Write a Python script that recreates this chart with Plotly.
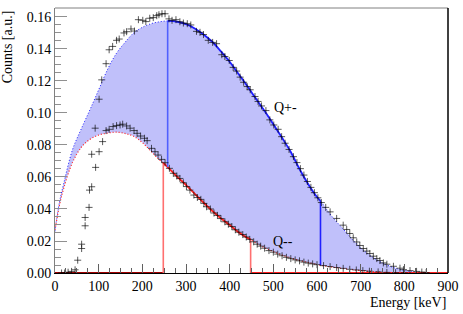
import plotly.graph_objects as go
import numpy as np

# ---- fit curves ----
upper_E = [0, 10, 20, 40, 60, 80, 100, 120, 140, 160, 180, 200, 220, 240, 258, 280, 300, 320, 340, 360,
           380, 400, 420, 440, 460, 480, 500, 520, 540, 560, 580, 600, 608, 620, 640, 660, 680, 700, 720,
           740, 760, 780, 800, 820, 840, 860]
upper_y = [0.026, 0.044, 0.056, 0.077, 0.090, 0.102, 0.1145, 0.127, 0.137, 0.144, 0.150, 0.1535, 0.1558,
           0.1570, 0.1575, 0.1570, 0.1555, 0.1528, 0.1490, 0.1445, 0.1385, 0.1320, 0.1245, 0.1170, 0.1090,
           0.1012, 0.0930, 0.0845, 0.0756, 0.0650, 0.0555, 0.0475, 0.0451, 0.0405, 0.0335, 0.0275, 0.0212,
           0.0158, 0.0113, 0.0078, 0.0050, 0.0030, 0.0016, 0.0007, 0.0002, 0.0]

lower_E = [0, 10, 20, 40, 60, 80, 100, 120, 140, 160, 180, 200, 220, 240, 248, 258, 280, 300, 320, 340,
           360, 380, 400, 420, 440, 448, 460, 480, 500, 520, 540, 560, 580, 600, 608, 620, 640, 660, 680,
           700, 720, 740, 760, 780, 800]
lower_y = [0.027, 0.042, 0.053, 0.069, 0.0785, 0.0835, 0.0862, 0.0874, 0.0880, 0.0872, 0.0855, 0.0815,
           0.0760, 0.0705, 0.0688, 0.0662, 0.0600, 0.0550, 0.0495, 0.0440, 0.0388, 0.0342, 0.0300, 0.0256,
           0.0220, 0.0209, 0.0188, 0.0158, 0.0134, 0.0112, 0.0093, 0.0078, 0.0065, 0.0053, 0.0048, 0.0043,
           0.0035, 0.0028, 0.0021, 0.0015, 0.0010, 0.0006, 0.0003, 0.0001, 0.0]

# ---- measured data points ----
data_up_E = [101, 107, 117, 124, 132, 141, 147, 158, 164, 174, 182, 191, 201, 208, 217, 225, 233, 238, 245,
             252, 261, 268, 277, 286, 294, 303, 311, 324, 332, 340, 351, 361, 370, 382, 389, 399, 408, 416,
             424, 432, 440, 447, 458, 465, 473, 483, 492, 501, 511, 519, 527, 536, 546, 554, 562, 570, 578,
             586, 594, 602, 610, 620, 630, 645, 660, 668, 675, 683, 691, 698, 706, 714, 721, 729, 737, 744,
             752, 760, 775, 790, 798, 813, 828, 840, 850]
data_up_y = [0.1086, 0.1207, 0.1308, 0.1395, 0.1416, 0.1454, 0.1462, 0.1500, 0.1508, 0.1525, 0.1512, 0.1583,
             0.1579, 0.1571, 0.1592, 0.1596, 0.1608, 0.1614, 0.1620, 0.1620, 0.1588, 0.1579, 0.1583, 0.1570,
             0.1562, 0.1558, 0.1550, 0.1510, 0.1504, 0.1490, 0.1454, 0.1441, 0.1433, 0.1364, 0.1353, 0.1328,
             0.1285, 0.1262, 0.1224, 0.1192, 0.1165, 0.1145, 0.1103, 0.1072, 0.1044, 0.1015, 0.0957, 0.0925,
             0.0898, 0.0852, 0.0811, 0.0772, 0.0727, 0.0690, 0.0652, 0.0612, 0.0572, 0.0535, 0.0502, 0.0470,
             0.0440, 0.0410, 0.0382, 0.0341, 0.0299, 0.0272, 0.0247, 0.0220, 0.0194, 0.0172, 0.0153, 0.0137,
             0.0122, 0.0105, 0.0090, 0.0078, 0.0063, 0.0055, 0.0042, 0.0030, 0.0021, 0.0015, 0.0010, 0.0006,
             0.0003]

data_lo_E = [15, 22, 30, 38, 46, 52, 61, 61, 69, 69, 78, 79, 84, 93, 84, 92, 101, 109, 117, 124, 133, 141,
             149, 155, 164, 172, 181, 188, 196, 205, 211, 221, 229, 236, 244, 252, 262, 271, 279, 286, 294,
             301, 309, 318, 326, 334, 341, 347, 356, 364, 372, 380, 389, 397, 405, 413, 421, 430, 438, 446,
             455, 463, 471, 480, 490, 500, 510, 520, 530, 540, 550, 560, 570, 580, 590, 600, 615, 630, 645,
             660, 675, 690, 705, 720, 740, 760, 780, 800]
data_lo_y = [0.0, 0.0, 0.0005, 0.001, 0.002, 0.008, 0.0153, 0.0180, 0.0295, 0.0347, 0.0410, 0.0518, 0.0539,
             0.0660, 0.0742, 0.0905, 0.0758, 0.0821, 0.0890, 0.0898, 0.0915, 0.0921, 0.0925, 0.0930, 0.0919,
             0.0905, 0.0890, 0.0873, 0.0856, 0.0842, 0.0827, 0.0779, 0.0758, 0.0737, 0.0710, 0.0689, 0.0654,
             0.0623, 0.0606, 0.0591, 0.0564, 0.0540, 0.0518, 0.0487, 0.0472, 0.0460, 0.0435, 0.0414, 0.0400,
             0.0375, 0.0360, 0.0340, 0.0320, 0.0305, 0.0290, 0.0270, 0.0255, 0.0240, 0.0225, 0.0210, 0.0195,
             0.0180, 0.0168, 0.0155, 0.0140, 0.0130, 0.0118, 0.0108, 0.0098, 0.0090, 0.0082, 0.0076, 0.0068,
             0.0062, 0.0057, 0.0052, 0.0046, 0.0040, 0.0034, 0.0029, 0.0023, 0.0019, 0.0015, 0.0011, 0.0007,
             0.0004, 0.0002, 0.0001]

# ranges of the highlighted windows
q_pm_range = (258, 608)
q_mm_range = (248, 448)
x_ticks = [0, 100, 200, 300, 400, 500, 600, 700, 800, 900]
y_ticks = [0.00, 0.02, 0.04, 0.06, 0.08, 0.10, 0.12, 0.14, 0.16]

FONT = "Liberation Serif, Times New Roman, serif"
BLUE = "#2020ff"
RED = "#ff2020"

uE, uy = np.array(upper_E), np.array(upper_y)
lE, ly = np.array(lower_E), np.array(lower_y)

fig = go.Figure()
# fill between curves
fig.add_trace(go.Scatter(x=lE, y=ly, mode="lines", line=dict(width=0, shape="spline"), showlegend=False,
                         hoverinfo="skip"))
fig.add_trace(go.Scatter(x=uE, y=uy, mode="lines", line=dict(width=0, shape="spline"), fill="tonexty",
                         fillcolor="rgb(192,192,250)", showlegend=False, hoverinfo="skip"))
# dotted full curves
fig.add_trace(go.Scatter(x=uE, y=uy, mode="lines", line=dict(color=BLUE, width=1, dash="1px,2px", shape="spline"),
                         showlegend=False))
fig.add_trace(go.Scatter(x=lE, y=ly, mode="lines", line=dict(color=RED, width=1.2, dash="1px,2px", shape="spline"),
                         showlegend=False))

# red window (Q--)
a, b = q_mm_range
m = (lE >= a) & (lE <= b)
fig.add_trace(go.Scatter(x=[0, a], y=[0, 0], mode="lines", line=dict(color="#a00000", width=2), showlegend=False))
fig.add_trace(go.Scatter(x=[a] + list(lE[m]) + [b], y=[0] + list(ly[m]) + [0], mode="lines",
                         line=dict(color="#ff7070", width=1.6), showlegend=False))
fig.add_trace(go.Scatter(x=list(lE[m]), y=list(ly[m]), mode="lines",
                         line=dict(color=RED, width=1.6, shape="spline"), showlegend=False))
fig.add_trace(go.Scatter(x=[b, 900], y=[0, 0], mode="lines", line=dict(color=RED, width=2), showlegend=False))

# blue window (Q+-)
a, b = q_pm_range
mu = (uE >= a) & (uE <= b)
fig.add_trace(go.Scatter(x=[a, a], y=[ly[lE == a][0], uy[uE == a][0]], mode="lines",
                         line=dict(color="#5060ff", width=1.6), showlegend=False))
fig.add_trace(go.Scatter(x=[b, b], y=[ly[lE == b][0], uy[uE == b][0]], mode="lines",
                         line=dict(color=BLUE, width=1.6), showlegend=False))
fig.add_trace(go.Scatter(x=list(uE[mu]), y=list(uy[mu]), mode="lines",
                         line=dict(color=BLUE, width=1.8, shape="spline"), showlegend=False))

# data points
for xs, ys in [(data_up_E, data_up_y), (data_lo_E, data_lo_y)]:
    fig.add_trace(go.Scatter(x=xs, y=ys, mode="markers",
                             marker=dict(symbol="cross-thin", size=5, line=dict(color="rgba(0,0,0,0.65)", width=1)),
                             showlegend=False))

fig.add_annotation(x=527, y=0.1037, text="Q+-", showarrow=False, font=dict(family=FONT, size=14, color="black"))
fig.add_annotation(x=522, y=0.0194, text="Q--", showarrow=False, font=dict(family=FONT, size=14, color="black"))
fig.add_annotation(xref="paper", yref="paper", x=1.0, y=-0.11, xanchor="right", yanchor="middle",
                   text="Energy [keV]", showarrow=False, font=dict(family=FONT, size=14, color="black"))
fig.add_annotation(xref="paper", yref="paper", x=-0.12, y=1.0, xanchor="center", yanchor="top", textangle=-90,
                   text="Counts [a.u.]", showarrow=False, font=dict(family=FONT, size=14, color="black"))

# frame: top gray, right black
fig.add_shape(type="line", xref="paper", yref="paper", x0=0, x1=1, y0=1, y1=1, line=dict(color="#808080", width=1))
fig.add_shape(type="line", xref="paper", yref="paper", x0=1, x1=1, y0=0, y1=1, line=dict(color="black", width=1.5))

fig.update_layout(
    width=463, height=314, margin=dict(l=55, r=15, t=8, b=41, autoexpand=False),
    plot_bgcolor="white", paper_bgcolor="white",
    font=dict(family=FONT, size=14, color="black"),
    xaxis=dict(range=[0, 900], tickvals=x_ticks, ticktext=[str(v) for v in x_ticks], ticks="inside",
               ticklen=9, tickcolor="#606060", showgrid=False, zeroline=False, showline=True,
               linecolor="black", linewidth=1, automargin=False, tickfont=dict(family=FONT, size=14),
               minor=dict(dtick=25, ticks="inside", ticklen=5, tickcolor="#606060")),
    yaxis=dict(range=[0, 0.1656], tickvals=y_ticks, ticktext=[f"{v:.2f}" for v in y_ticks], ticks="inside",
               ticklen=12, tickcolor="#909090", showgrid=False, zeroline=False, showline=True,
               linecolor="#808080", linewidth=1, automargin=False, tickfont=dict(family=FONT, size=14),
               minor=dict(dtick=0.005, ticks="inside", ticklen=6, tickcolor="#909090")),
)
fig.write_html("out.html", config={"displayModeBar": False},
               post_script="document.body.style.margin='0';document.body.style.overflow='hidden';")
